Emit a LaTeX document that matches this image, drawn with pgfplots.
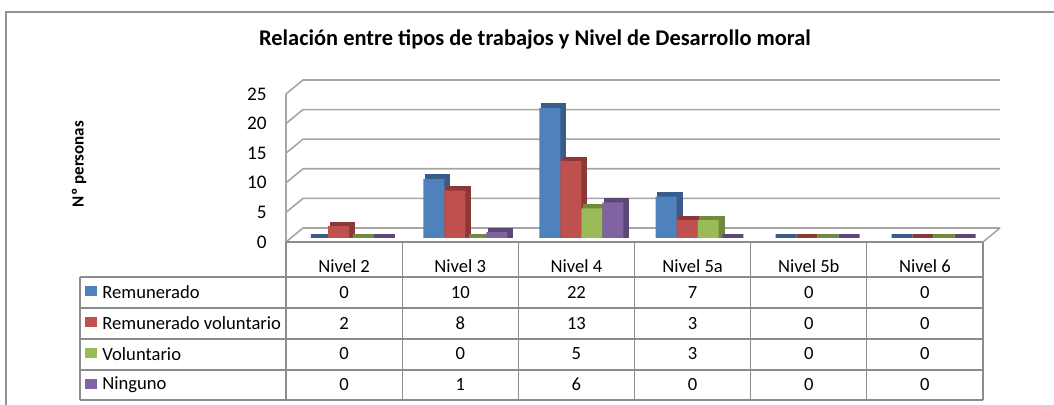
\documentclass[border=0pt]{standalone}
\usepackage{fontspec}
\setmainfont{Carlito}
\usepackage{pgfplots}
\usepackage{pgfplotstable}
\pgfplotsset{compat=1.18}

\definecolor{cRem}{HTML}{4F81BD}
\definecolor{cRemD}{HTML}{385D8A}
\definecolor{cRemV}{HTML}{C0504D}
\definecolor{cRemVD}{HTML}{8C3836}
\definecolor{cVol}{HTML}{9BBB59}
\definecolor{cVolD}{HTML}{71893F}
\definecolor{cNin}{HTML}{8064A2}
\definecolor{cNinD}{HTML}{5C4776}
\definecolor{gridc}{HTML}{A6A6A6}
\definecolor{tabc}{HTML}{8C8C8C}

% x = nivel (0 = Nivel 2 ... 5 = Nivel 6)
\pgfplotstableread{
x rem remvol vol nin
0 0  2  0 0
1 10 8  0 1
2 22 13 5 6
3 7  3  3 0
4 0  0  0 0
5 0  0  0 0
}\datos

\newcommand{\tabfont}{\fontsize{9.3}{10}\selectfont}

\pgfplotsset{
  cara/.style 2 args={ybar, bar width=10.5pt, bar shift=#1, fill=#2, draw=none,
    xshift=2.5pt, yshift=2pt},
  fondo/.style 2 args={ybar, bar width=10.5pt, bar shift=#1, fill=#2, draw=#2,
    line width=2.2pt, xshift=4.4pt, yshift=3.1pt},
}

\begin{document}
\begin{tikzpicture}
\begin{scope}[x=0.5pt, y=-0.5pt]
  \useasboundingbox (0,0) rectangle (1054,405);
  % marco
  \draw[gray!85, line width=0.75pt] (6,405) -- (6,12) -- (1054,12);
  % titulo y etiqueta del eje
  \node[font=\bfseries\fontsize{11.2}{13}\selectfont] at (535,40)
    {Relación entre tipos de trabajos y Nivel de Desarrollo moral};
  \node[font=\bfseries\fontsize{8.5}{10}\selectfont, rotate=90] at (79,164) {Nº personas};
\end{scope}

\begin{axis}[
    at={(143pt,-121pt)}, anchor=south west,
    width=348.5pt, height=74pt, scale only axis,
    xmin=-0.5, xmax=5.5, ymin=0, ymax=25,
    ytick={0,5,...,25},
    xtick=\empty,
    axis x line=none,
    axis y line*=left,
    y axis line style={draw=gridc, line width=0.8pt, -},
    major tick length=0pt,
    yticklabel style={font=\fontsize{9.6}{10}\selectfont, anchor=east, inner sep=0pt, xshift=-9.5pt},
    /pgf/number format/assume math mode=true,
    clip=false,
]
  % paredes con cuadricula
  \pgfplotsinvokeforeach{0,5,...,25}{
    \draw[gridc, line width=0.8pt] (axis cs:-0.5,#1) -- ++(8.5pt,7pt)
      -- ([xshift=8.5pt,yshift=7pt]axis cs:5.5,#1);
  }
  \draw[gridc, line width=0.8pt] (axis cs:5.5,0) -- ++(8.5pt,7pt);

  \addplot[fondo={-15.75pt}{cRemD}] table[x=x, y=rem] {\datos};
  \addplot[cara={-15.75pt}{cRem}] table[x=x, y=rem] {\datos};
  \addplot[fondo={-5.25pt}{cRemVD}] table[x=x, y=remvol] {\datos};
  \addplot[cara={-5.25pt}{cRemV}] table[x=x, y=remvol] {\datos};
  \addplot[fondo={5.25pt}{cVolD}] table[x=x, y=vol] {\datos};
  \addplot[cara={5.25pt}{cVol}] table[x=x, y=vol] {\datos};
  \addplot[fondo={15.75pt}{cNinD}] table[x=x, y=nin] {\datos};
  \addplot[cara={15.75pt}{cNin}] table[x=x, y=nin] {\datos};
\end{axis}

\begin{scope}[x=0.5pt, y=-0.5pt]
  % tabla de datos
  \draw[tabc, line width=0.6pt] (286,242) -- (983,242);
  \foreach \yy in {277,308,339,370,400} {
    \draw[tabc, line width=0.6pt] (80,\yy) -- (983,\yy);
  }
  \draw[tabc, line width=0.6pt] (80,277) -- (80,400);
  \foreach \xx in {286,402.17,518.33,634.5,750.67,866.83,983} {
    \draw[tabc, line width=0.6pt] (\xx,242) -- (\xx,400);
  }
  \foreach \h [count=\i from 0] in {Nivel 2,Nivel 3,Nivel 4,Nivel 5a,Nivel 5b,Nivel 6} {
    \node[font=\tabfont] at ({286+116.17*(\i+0.5)},266) {\h};
  }
  \foreach \n/\col [count=\i from 0] in {Remunerado/cRem,Remunerado voluntario/cRemV,Voluntario/cVol,Ninguno/cNin} {
    \fill[\col] (85,{277+30.75*(\i+0.5)-6}) rectangle (97,{277+30.75*(\i+0.5)+4});
    \node[font=\tabfont, anchor=west, inner sep=0pt] at (102,{277+30.75*(\i+0.5)}) {\n};
  }
  \foreach \c [count=\i from 0] in {rem,remvol,vol,nin} {
    \foreach \r in {0,...,5} {
      \pgfplotstablegetelem{\r}{\c}\of\datos
      \node[font=\tabfont] at ({286+116.17*(\r+0.5)},{277+30.75*(\i+0.5)}) {\pgfplotsretval};
    }
  }
\end{scope}
\end{tikzpicture}
\end{document}
